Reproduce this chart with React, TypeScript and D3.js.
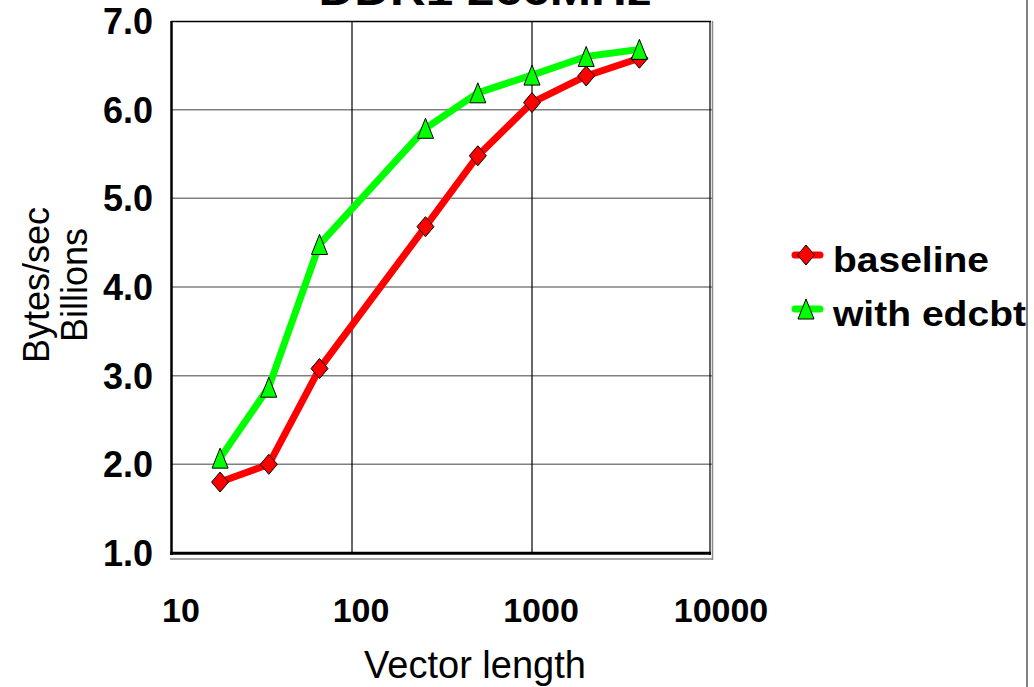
import React from "react";
import * as d3 from "d3";

const vectorLengths = [18.5, 34.5, 66, 256, 500, 1000, 2000, 3950];
const baselineValues = [1.8, 2.0, 3.08, 4.68, 5.48, 6.08, 6.38, 6.58];
const edcbtValues = [2.07, 2.87, 4.48, 5.79, 6.19, 6.39, 6.6, 6.68];
const xTicks = [10, 100, 1000, 10000];
const yTicks = [1, 2, 3, 4, 5, 6, 7];
const seriesNames = ["baseline", "with edcbt"];
const titleText = "DDR1 266MHz";

const FONT = "'Liberation Sans', Arial, Helvetica, sans-serif";

export default function App() {
  const W = 1034, H = 687;
  const L = 172, R = 712, T = 21, B = 553;
  const x = d3.scaleLog().domain([10, 10000]).range([L, R]);
  const y = d3.scaleLinear().domain([1, 7]).range([B, T]);
  const line = d3
    .line<number>()
    .x((_, i) => x(vectorLengths[i]))
    .y((d) => y(d));

  const diamond = (cx: number, cy: number) =>
    `M${cx},${cy - 10}L${cx + 8.5},${cy}L${cx},${cy + 10}L${cx - 8.5},${cy}Z`;
  const tri = (cx: number, cy: number) =>
    `M${cx},${cy - 10}L${cx + 8},${cy + 10}L${cx - 8},${cy + 10}Z`;

  return (
    <svg
      width={W}
      height={H}
      style={{ position: "absolute", left: 0, top: 0, background: "#fff" }}
      fontFamily={FONT}
    >
      <rect x={0} y={0} width={W} height={H} fill="#fff" />
      {/* title */}
      <text
        x={485}
        y={5}
        textAnchor="middle"
        fontWeight="bold"
        fontSize={43}
        textLength={333}
        lengthAdjust="spacingAndGlyphs"
      >
        {titleText}
      </text>
      {/* horizontal gridlines */}
      {yTicks
        .filter((t) => t > 1 && t < 7)
        .map((t) => (
          <line key={t} x1={L} x2={R} y1={y(t)} y2={y(t)} stroke="#808080" strokeWidth={1.5} />
        ))}
      {/* vertical gridlines */}
      {xTicks
        .filter((t) => t > 10 && t < 10000)
        .map((t) => (
          <line key={t} x1={x(t)} x2={x(t)} y1={T} y2={B} stroke="#000" strokeWidth={1.2} />
        ))}
      {/* frame */}
      <line x1={L - 1} x2={R - 1} y1={T + 0.5} y2={T + 0.5} stroke="#000" strokeWidth={1.5} />
      <line x1={R - 2} x2={R - 2} y1={T} y2={B + 2} stroke="#000" strokeWidth={1.2} />
      <line x1={R + 0.5} x2={R + 0.5} y1={T} y2={B + 7} stroke="#8a8a8a" strokeWidth={1.5} />
      <line x1={L - 2} x2={R + 1} y1={B + 6} y2={B + 6} stroke="#8a8a8a" strokeWidth={1.5} />
      <line x1={L - 0.5} x2={L - 0.5} y1={T} y2={B + 2} stroke="#000" strokeWidth={2.5} />
      <line x1={L - 2} x2={R - 1} y1={B + 0.3} y2={B + 0.3} stroke="#000" strokeWidth={3} />

      {/* y tick labels */}
      {yTicks.map((t) => (
        <text
          key={t}
          x={153}
          y={y(t)}
          dy="0.36em"
          textAnchor="end"
          fontWeight="bold"
          fontSize={36}
        >
          {t.toFixed(1)}
        </text>
      ))}
      {/* x tick labels */}
      {xTicks.map((t) => (
        <text
          key={t}
          x={x(t) + 9}
          y={622}
          textAnchor="middle"
          fontWeight="bold"
          fontSize={34}
        >
          {t}
        </text>
      ))}
      {/* axis titles */}
      <text x={475} y={678} textAnchor="middle" fontSize={38}>
        Vector length
      </text>
      <g transform="translate(49,285) rotate(-90)">
        <text x={0} y={0} textAnchor="middle" fontSize={36}>
          Bytes/sec
        </text>
        <text x={0} y={38} textAnchor="middle" fontSize={36}>
          Billions
        </text>
      </g>

      {/* series */}
      <path d={line(baselineValues) || ""} fill="none" stroke="#ff0000" strokeWidth={7} strokeLinejoin="round" />
      {baselineValues.map((v, i) => (
        <path key={i} d={diamond(x(vectorLengths[i]), y(v))} fill="#ff0000" stroke="#000" strokeWidth={1} />
      ))}
      <path d={line(edcbtValues) || ""} fill="none" stroke="#00ff00" strokeWidth={7} strokeLinejoin="round" />
      {edcbtValues.map((v, i) => (
        <path key={i} d={tri(x(vectorLengths[i]), y(v))} fill="#00ff00" stroke="#000" strokeWidth={1} />
      ))}

      {/* legend */}
      <line x1={795} x2={820} y1={255} y2={255} stroke="#ff0000" strokeWidth={7} strokeLinecap="round" />
      <path d={diamond(806, 255)} fill="#ff0000" stroke="#000" strokeWidth={1} />
      <text x={833} y={272} fontWeight="bold" fontSize={35} textLength={156} lengthAdjust="spacingAndGlyphs">
        {seriesNames[0]}
      </text>
      <line x1={795} x2={820} y1={309} y2={309} stroke="#00ff00" strokeWidth={7} strokeLinecap="round" />
      <path d={tri(806, 309)} fill="#00ff00" stroke="#000" strokeWidth={1} />
      <text x={833} y={326} fontWeight="bold" fontSize={35} textLength={193} lengthAdjust="spacingAndGlyphs">
        {seriesNames[1]}
      </text>
      {/* right figure border */}
      <rect x={1027} y={0} width={7} height={H} fill="#fff" />
      <line x1={1027} x2={1027} y1={0} y2={H} stroke="#808080" strokeWidth={2} />
    </svg>
  );
}
